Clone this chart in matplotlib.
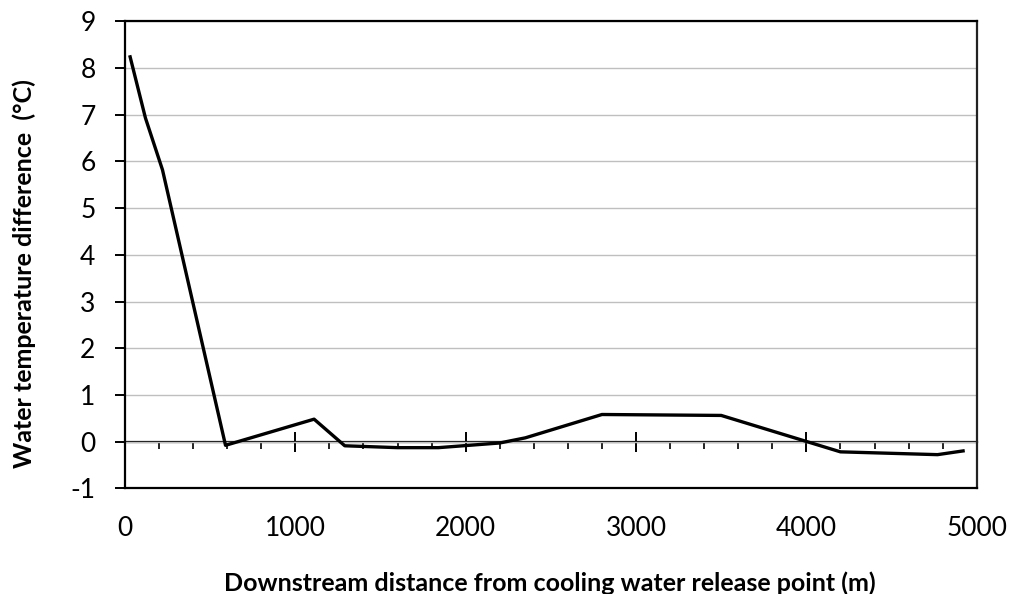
#!/usr/bin/env python3
"""Water temperature difference downstream of the cooling water release point."""

import matplotlib

matplotlib.use("Agg")
import matplotlib.pyplot as plt
from matplotlib.ticker import MultipleLocator

plt.rcParams["font.family"] = ["Lato", "DejaVu Sans"]
plt.rcParams["axes.unicode_minus"] = False

# data
distance_m = [30, 120, 220, 590, 1110, 1290, 1600, 1840, 2200, 2350, 2800, 3500, 4200, 4770, 4920]
temp_diff_c = [8.24, 6.93, 5.82, -0.08, 0.48, -0.09, -0.13, -0.13, -0.03, 0.08, 0.58, 0.56, -0.22, -0.28, -0.2]

x_ticks = [0, 1000, 2000, 3000, 4000, 5000]
y_ticks = [-1, 0, 1, 2, 3, 4, 5, 6, 7, 8, 9]

xlabel = "Downstream distance from cooling water release point (m)"
ylabel = "Water temperature difference  (\u00b0C)"


def main() -> None:
    fig = plt.figure(figsize=(10.09, 5.94), dpi=100)
    ax = fig.add_axes([0.1239, 0.178, 0.8441, 0.786])

    ax.plot(distance_m, temp_diff_c, color="black", linewidth=2.4, zorder=5)

    ax.set_xlim(0, 5000)
    ax.set_ylim(-1, 9)
    ax.set_xticks(x_ticks)
    ax.set_yticks(y_ticks)
    ax.yaxis.grid(True, color="#bfbfbf", linewidth=1.0)
    ax.set_axisbelow(True)

    for side in ("left", "top", "bottom", "right"):
        ax.spines[side].set_color("black")
        ax.spines[side].set_linewidth(1.6)
    ax.spines["right"].set_color("#222222")

    ax.tick_params(axis="x", length=0, pad=20, labelsize=19)
    ax.tick_params(axis="y", direction="out", length=7.2, width=1.4, pad=14, labelsize=19)

    # horizontal axis crossing at zero, with its own tick marks
    zero_ax = ax.secondary_xaxis(0, transform=ax.transData)
    zero_ax.spines["bottom"].set_linewidth(1.6)
    zero_ax.set_xticks(x_ticks)
    zero_ax.xaxis.set_minor_locator(MultipleLocator(200))
    zero_ax.tick_params(which="major", direction="inout", length=14.4, width=1.4, labelbottom=False)
    zero_ax.tick_params(which="minor", direction="out", length=5, width=1.2)

    fig.text(0.545, 1 - 571 / 594, xlabel, ha="center", va="top", fontsize=18, fontweight="bold")
    fig.text(24 / 1009, 1 - 274 / 594, ylabel, ha="center", va="center", rotation=90,
             fontsize=18, fontweight="bold")

    fig.savefig("out.png", dpi=100)


if __name__ == "__main__":
    main()
